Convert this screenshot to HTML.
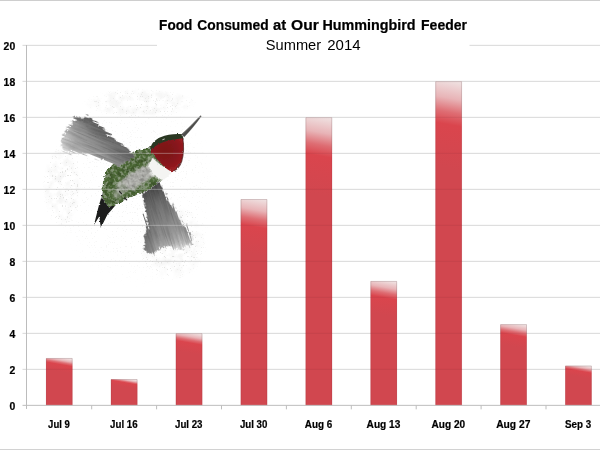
<!DOCTYPE html>
<html lang="en"><head><meta charset="utf-8"><title>Food Consumed at Our Hummingbird Feeder</title>
<style>html,body{margin:0;padding:0;background:#fff;overflow:hidden}svg{display:block}text{font-family:"Liberation Sans",sans-serif;fill:#000}.b{font-weight:bold;stroke:#000;stroke-width:0.22px;paint-order:stroke}</style></head><body>
<svg width="600" height="450" viewBox="0 0 600 450">
<defs>
<linearGradient id="g0" gradientUnits="userSpaceOnUse" x1="59.25" y1="357.19" x2="56.84" y2="370.83"><stop offset="0" stop-color="#efe0e0"/><stop offset="0.2" stop-color="#e8b4b7"/><stop offset="0.36" stop-color="#de6d73"/><stop offset="0.5" stop-color="#da454d"/><stop offset="1" stop-color="#d1474f"/></linearGradient>
<linearGradient id="g1" gradientUnits="userSpaceOnUse" x1="124.15" y1="378.25" x2="122.71" y2="386.41"><stop offset="0" stop-color="#efe0e0"/><stop offset="0.2" stop-color="#e8b4b7"/><stop offset="0.36" stop-color="#de6d73"/><stop offset="0.5" stop-color="#da454d"/><stop offset="1" stop-color="#d1474f"/></linearGradient>
<linearGradient id="g2" gradientUnits="userSpaceOnUse" x1="189.05" y1="332.35" x2="185.51" y2="352.45"><stop offset="0" stop-color="#efe0e0"/><stop offset="0.2" stop-color="#e8b4b7"/><stop offset="0.36" stop-color="#de6d73"/><stop offset="0.5" stop-color="#da454d"/><stop offset="1" stop-color="#d1474f"/></linearGradient>
<linearGradient id="g3" gradientUnits="userSpaceOnUse" x1="253.95" y1="198.25" x2="244.26" y2="253.21"><stop offset="0" stop-color="#efe0e0"/><stop offset="0.2" stop-color="#e8b4b7"/><stop offset="0.36" stop-color="#de6d73"/><stop offset="0.5" stop-color="#da454d"/><stop offset="1" stop-color="#d1474f"/></linearGradient>
<linearGradient id="g4" gradientUnits="userSpaceOnUse" x1="318.85" y1="116.35" x2="305.40" y2="192.61"><stop offset="0" stop-color="#efe0e0"/><stop offset="0.2" stop-color="#e8b4b7"/><stop offset="0.36" stop-color="#de6d73"/><stop offset="0.5" stop-color="#da454d"/><stop offset="1" stop-color="#d1474f"/></linearGradient>
<linearGradient id="g5" gradientUnits="userSpaceOnUse" x1="383.75" y1="280.15" x2="377.81" y2="313.82"><stop offset="0" stop-color="#efe0e0"/><stop offset="0.2" stop-color="#e8b4b7"/><stop offset="0.36" stop-color="#de6d73"/><stop offset="0.5" stop-color="#da454d"/><stop offset="1" stop-color="#d1474f"/></linearGradient>
<linearGradient id="g6" gradientUnits="userSpaceOnUse" x1="448.65" y1="80.35" x2="433.55" y2="165.97"><stop offset="0" stop-color="#efe0e0"/><stop offset="0.2" stop-color="#e8b4b7"/><stop offset="0.36" stop-color="#de6d73"/><stop offset="0.5" stop-color="#da454d"/><stop offset="1" stop-color="#d1474f"/></linearGradient>
<linearGradient id="g7" gradientUnits="userSpaceOnUse" x1="513.55" y1="323.35" x2="509.59" y2="345.79"><stop offset="0" stop-color="#efe0e0"/><stop offset="0.2" stop-color="#e8b4b7"/><stop offset="0.36" stop-color="#de6d73"/><stop offset="0.5" stop-color="#da454d"/><stop offset="1" stop-color="#d1474f"/></linearGradient>
<linearGradient id="g8" gradientUnits="userSpaceOnUse" x1="578.45" y1="364.75" x2="576.39" y2="376.42"><stop offset="0" stop-color="#efe0e0"/><stop offset="0.2" stop-color="#e8b4b7"/><stop offset="0.36" stop-color="#de6d73"/><stop offset="0.5" stop-color="#da454d"/><stop offset="1" stop-color="#d1474f"/></linearGradient>
</defs>
<rect width="600" height="450" fill="#fff"/>
<line x1="22.5" y1="369.35" x2="600" y2="369.35" stroke="#d8d8d8" stroke-width="1"/>
<line x1="22.5" y1="333.35" x2="600" y2="333.35" stroke="#d8d8d8" stroke-width="1"/>
<line x1="22.5" y1="297.35" x2="600" y2="297.35" stroke="#d8d8d8" stroke-width="1"/>
<line x1="22.5" y1="261.35" x2="600" y2="261.35" stroke="#d8d8d8" stroke-width="1"/>
<line x1="22.5" y1="225.35000000000002" x2="600" y2="225.35000000000002" stroke="#d8d8d8" stroke-width="1"/>
<line x1="22.5" y1="189.35000000000002" x2="600" y2="189.35000000000002" stroke="#d8d8d8" stroke-width="1"/>
<line x1="22.5" y1="153.35000000000002" x2="600" y2="153.35000000000002" stroke="#d8d8d8" stroke-width="1"/>
<line x1="22.5" y1="117.35000000000002" x2="600" y2="117.35000000000002" stroke="#d8d8d8" stroke-width="1"/>
<line x1="22.5" y1="81.35000000000002" x2="600" y2="81.35000000000002" stroke="#d8d8d8" stroke-width="1"/>
<line x1="22.5" y1="45.35000000000002" x2="600" y2="45.35000000000002" stroke="#d8d8d8" stroke-width="1"/>
<defs>
<filter id="rough" x="-10%" y="-10%" width="120%" height="120%">
<feTurbulence type="fractalNoise" baseFrequency="0.3" numOctaves="2" seed="3" result="n"/>
<feDisplacementMap in="SourceGraphic" in2="n" scale="2.6" xChannelSelector="R" yChannelSelector="G" result="d"/>
<feGaussianBlur in="d" stdDeviation="0.4"/>
</filter>
<filter id="mottle" x="-10%" y="-10%" width="120%" height="120%">
<feTurbulence type="fractalNoise" baseFrequency="0.22" numOctaves="3" seed="11" result="n"/>
<feDisplacementMap in="SourceGraphic" in2="n" scale="5" xChannelSelector="R" yChannelSelector="G" result="d"/>
<feColorMatrix in="n" type="matrix" values="0.9 0 0 0 0.42  0.9 0 0 0 0.42  0.9 0 0 0 0.42  0 0 0 0 1" result="g"/>
<feBlend in="d" in2="g" mode="multiply" result="b"/>
<feComposite in="b" in2="d" operator="in" result="c"/>
<feGaussianBlur in="c" stdDeviation="0.4"/>
</filter>
<filter id="streak" x="-15%" y="-15%" width="130%" height="130%">
<feTurbulence type="fractalNoise" baseFrequency="0.035 0.7" numOctaves="2" seed="4" result="n"/>
<feTurbulence type="fractalNoise" baseFrequency="0.4" numOctaves="2" seed="9" result="n2"/>
<feDisplacementMap in="SourceGraphic" in2="n" scale="9" xChannelSelector="G" yChannelSelector="A" result="d0"/>
<feDisplacementMap in="d0" in2="n2" scale="2.5" xChannelSelector="R" yChannelSelector="G" result="d"/>
<feColorMatrix in="n" type="matrix" values="0.9 0 0 0 0.5  0.9 0 0 0 0.5  0.9 0 0 0 0.5  0 0 0 0 1" result="g"/>
<feBlend in="d" in2="g" mode="multiply" result="b"/>
<feComposite in="b" in2="d" operator="in" result="c"/>
<feGaussianBlur in="c" stdDeviation="0.35"/>
</filter>
<filter id="flecks" x="-5%" y="-5%" width="110%" height="110%">
<feTurbulence type="fractalNoise" baseFrequency="0.28" numOctaves="2" seed="21" result="n"/>
<feColorMatrix in="n" type="matrix" values="0 0 0 0 0.62  0 0 0 0 0.63  0 0 0 0 0.6  5 0 0 0 -2.35" result="s"/>
<feComposite in="s" in2="SourceGraphic" operator="in" result="c"/>
<feGaussianBlur in="c" stdDeviation="0.5"/>
</filter>
<filter id="haze" x="0" y="0" width="100%" height="100%">
<feTurbulence type="fractalNoise" baseFrequency="0.12" numOctaves="3" seed="2" result="n"/>
<feColorMatrix in="n" type="matrix" values="0 0 0 0 0.35  0 0 0 0 0.35  0 0 0 0 0.33  3.2 0 0 0 -1.25" result="s"/>
<feComposite in="s" in2="SourceGraphic" operator="in"/>
</filter>
<filter id="speck" x="0" y="0" width="100%" height="100%">
<feTurbulence type="fractalNoise" baseFrequency="0.8" numOctaves="2" seed="5" result="n"/>
<feColorMatrix in="n" type="matrix" values="0 0 0 0 0.5  0 0 0 0 0.5  0 0 0 0 0.48  -10 -10 0 0 7.6" result="s"/>
<feComposite in="s" in2="SourceGraphic" operator="in"/>
</filter>
<radialGradient id="halo" cx="0.5" cy="0.5" r="0.5"><stop offset="0" stop-color="#000" stop-opacity="0.8"/><stop offset="0.75" stop-color="#000" stop-opacity="0.6"/><stop offset="1" stop-color="#000" stop-opacity="0"/></radialGradient>
<linearGradient id="wingL" gradientUnits="userSpaceOnUse" x1="128" y1="156" x2="64" y2="136"><stop offset="0" stop-color="#6c6c6c"/><stop offset="0.4" stop-color="#868686"/><stop offset="0.8" stop-color="#a4a4a4"/><stop offset="1" stop-color="#cdcdcd"/></linearGradient>
<linearGradient id="wingLs" gradientUnits="userSpaceOnUse" x1="103" y1="128" x2="90" y2="158"><stop offset="0" stop-color="#333" stop-opacity="0.55"/><stop offset="0.4" stop-color="#555" stop-opacity="0.12"/><stop offset="1" stop-color="#fff" stop-opacity="0.3"/></linearGradient>
<linearGradient id="wingR" gradientUnits="userSpaceOnUse" x1="153" y1="186" x2="171" y2="250"><stop offset="0" stop-color="#4a4a4a"/><stop offset="0.3" stop-color="#6e6e6e"/><stop offset="0.75" stop-color="#929292"/><stop offset="0.93" stop-color="#b2b2b2"/><stop offset="1" stop-color="#d8d8d8"/></linearGradient>
<linearGradient id="wingRs" gradientUnits="userSpaceOnUse" x1="145" y1="222" x2="190" y2="212"><stop offset="0" stop-color="#333" stop-opacity="0.35"/><stop offset="0.3" stop-color="#777" stop-opacity="0"/><stop offset="0.7" stop-color="#fff" stop-opacity="0.1"/><stop offset="1" stop-color="#444" stop-opacity="0.3"/></linearGradient>
<radialGradient id="gorget" gradientUnits="userSpaceOnUse" cx="165" cy="151" r="20"><stop offset="0" stop-color="#7a1216"/><stop offset="0.6" stop-color="#85171b"/><stop offset="0.9" stop-color="#93191e"/><stop offset="1" stop-color="#9c2126"/></radialGradient>
</defs>
<g id="bird">
<!-- faint speckle halo -->
<g filter="url(#haze)" opacity="0.13">
<ellipse cx="62" cy="186" rx="19" ry="40" fill="url(#halo)"/>
<ellipse cx="172" cy="242" rx="34" ry="38" fill="url(#halo)"/>
<ellipse cx="140" cy="103" rx="56" ry="14" fill="url(#halo)"/>
</g>
<g filter="url(#speck)" opacity="0.5">
<ellipse cx="135" cy="190" rx="84" ry="98" fill="url(#halo)" opacity="0.4"/>
<ellipse cx="62" cy="186" rx="20" ry="42" fill="url(#halo)"/>
<ellipse cx="172" cy="242" rx="36" ry="40" fill="url(#halo)"/>
<ellipse cx="140" cy="103" rx="58" ry="15" fill="url(#halo)" opacity="0.8"/>
</g>
<!-- near wing (lower-right) -->
<g transform="rotate(72 165 215)"><g filter="url(#streak)">
<g transform="rotate(-72 165 215)">
<path d="M156.7 181 L166.800 196.2 L176.500 212 L185 225.4 L190.500 236.7 L192.500 243.500 L186.500 246.500 L178 251 L169 246 L161 248 L152 254 L143.800 250 L146.500 225.6 L144.8 207.8 L142 195 L147 185 Z" fill="url(#wingR)"/>
<path d="M156.7 181 L166.800 196.2 L176.500 212 L185 225.4 L190.500 236.7 L192.500 243.500 L186.500 246.500 L178 251 L169 246 L161 248 L152 254 L143.800 250 L146.500 225.6 L144.8 207.8 L142 195 L147 185 Z" fill="url(#wingRs)"/>
</g></g></g>
<!-- tail -->
<g filter="url(#rough)">
<path d="M104 189 L99 205 L94 224.8 L99.3 216.5 L100.8 227.8 L107.5 214.5 L117.5 203 L113 192 Z" fill="#1b1d1a"/>
</g>
<!-- body -->
<clipPath id="bodyclip"><path d="M151 146.5 C143 148.5 133 151 124 156 C115 161 107.500 167.500 104 176.500 C101.500 184 101.500 194 104 201.500 C106 206.500 110 208 115 205.500 C121 202 126 199.5 131 197.5 C138 195 146 191.5 152 187.5 C158 183.500 163 179 167 174 C170 170.5 172 167.500 172 164.500 L160 150 Z"/></clipPath>
<filter id="soft" x="-20%" y="-20%" width="140%" height="140%"><feGaussianBlur stdDeviation="1.6"/></filter>
<g filter="url(#mottle)">
<g clip-path="url(#bodyclip)">
<path d="M151 146.5 C143 148.5 133 151 124 156 C115 161 107.500 167.500 104 176.500 C101.500 184 101.500 194 104 201.500 C106 206.500 110 208 115 205.500 C121 202 126 199.5 131 197.5 C138 195 146 191.5 152 187.5 C158 183.500 163 179 167 174 C170 170.5 172 167.500 172 164.500 L160 150 Z" fill="#4b6835"/>
<g filter="url(#soft)">
<ellipse cx="137" cy="178.500" rx="25" ry="7.800" transform="rotate(-31 137 178.500)" fill="#b0b0ac"/>
<ellipse cx="120" cy="191" rx="9" ry="5" transform="rotate(-50 120 191)" fill="#8f9a84" opacity="0.8"/>
<path d="M152 157 C156 163 162 167.500 171.500 170.500 C172 174 168 178.500 162.500 180.500 C155 179 149 171 147.500 163.500 Z" fill="#f6f6f4"/>
</g>
<path d="M153 158 C157 163 163 167 170.500 170 C171 173 168 176.500 163 178.500 C157 177 152 171 150 165 Z" fill="#f2f2f0"/>
</g>
</g>
<g filter="url(#flecks)" opacity="0.42"><path d="M151 146.5 C143 148.5 133 151 124 156 C115 161 107.500 167.500 104 176.500 C101.500 184 101.500 194 104 201.500 C106 206.500 110 208 115 205.500 C121 202 126 199.5 131 197.5 C138 195 146 191.5 152 187.5 C158 183.500 163 179 167 174 C170 170.5 172 167.500 172 164.500 L160 150 Z" fill="#000"/></g>
<g filter="url(#rough)"><path d="M152.500 158 C156.500 163 162.500 167 170.800 170 C171.300 173.500 168 177.500 163 179.500 C156.500 178 151 172 149 165.500 Z" fill="#f4f4f2"/></g>
<!-- far wing (upper-left) -->
<g transform="rotate(22 100 140)"><g filter="url(#streak)">
<g transform="rotate(-22 100 140)">
<path d="M75.6 115.8 L88 116.8 L99 125.5 L112 136.5 L126 148 L134.500 155 L127 161.500 L118.500 167.200 L110 163 L103 159.5 L85.6 154 L62.8 152.6 L60.5 146 L62 140 L65.2 131.5 L70.6 125.5 Z" fill="url(#wingL)"/>
<path d="M75.6 115.8 L88 116.8 L99 125.5 L112 136.5 L126 148 L134.500 155 L127 161.500 L118.500 167.200 L110 163 L103 159.5 L85.6 154 L62.8 152.6 L60.5 146 L62 140 L65.2 131.5 L70.6 125.5 Z" fill="url(#wingLs)"/>
</g></g></g>
<!-- head -->
<g filter="url(#rough)">
<path d="M150.300 149 C151 143.500 155.500 139.300 160.500 137.300 C167 134.600 175 133.600 182.300 134.300 L183.600 139.500 C176 140 168 141.500 161 144.500 C157 146.500 154 149 152.500 152.500 Z" fill="#2b3724"/>
<path d="M151 150.600 C153 147.200 157.300 144.200 163 142.200 C169 140.200 176 139 182.800 138.300 C184 145.500 183.800 153.500 181.800 161 C180.200 166 177.200 169.500 173.500 171.100 C169.700 172 166.200 168.500 162.500 165 C158.400 161 154.400 156.700 151 150.600 Z" fill="url(#gorget)"/>
<path d="M182.800 138.300 C184 145.500 183.800 153.500 181.800 161 C180.200 166 177.200 169.500 173.500 171.100" fill="none" stroke="#3c0d10" stroke-width="1.100" opacity="0.65"/>
</g>
<path d="M162.800 139.600 l1.500 -0.500" stroke="#d8d8d0" stroke-width="0.9" stroke-linecap="round"/>
<!-- beak -->
<path d="M181.600 134.300 C188 128.500 195 121.500 200.700 115.600 L201.300 116.300 C196.500 123 190.500 130.500 184.200 137 Z" fill="#4d4d4b" stroke="#4d4d4b" stroke-width="0.25" stroke-linejoin="round"/>
<path d="M183 133.800 C189 128 195 122 200.400 116.300" fill="none" stroke="#8a8a88" stroke-width="0.5" opacity="0.7"/>
<!-- feet -->
<path d="M119.500 191.500 l2 2.200 M124.500 198 l2.200 1.800" stroke="#2a2a28" stroke-width="1.200" stroke-linecap="round" fill="none"/>
</g>

<line x1="58" y1="225.35000000000002" x2="204" y2="225.35000000000002" stroke="#dcdcdc" stroke-opacity="0.4" stroke-width="1"/>
<line x1="58" y1="189.35000000000002" x2="204" y2="189.35000000000002" stroke="#dcdcdc" stroke-opacity="0.4" stroke-width="1"/>
<line x1="58" y1="153.35000000000002" x2="204" y2="153.35000000000002" stroke="#dcdcdc" stroke-opacity="0.4" stroke-width="1"/>
<line x1="58" y1="117.35000000000002" x2="204" y2="117.35000000000002" stroke="#dcdcdc" stroke-opacity="0.4" stroke-width="1"/>
<rect x="157" y="8" width="312.5" height="50" fill="#fff"/>
<rect x="46.05" y="358.19" width="26.4" height="47.16" fill="url(#g0)"/>
<path d="M46.30 405.35V364.38M72.20 405.35V364.38" fill="none" stroke="#8e2f38" stroke-opacity="0.3" stroke-width="0.6"/>
<path d="M46.30 364.38V358.44H72.20V364.38" fill="none" stroke="#7a5a5c" stroke-opacity="0.45" stroke-width="0.6"/>
<rect x="110.95" y="379.25" width="26.4" height="26.10" fill="url(#g1)"/>
<path d="M111.20 405.35V383.12M137.10 405.35V383.12" fill="none" stroke="#8e2f38" stroke-opacity="0.3" stroke-width="0.6"/>
<path d="M111.20 383.12V379.50H137.10V383.12" fill="none" stroke="#7a5a5c" stroke-opacity="0.45" stroke-width="0.6"/>
<rect x="175.85" y="333.35" width="26.4" height="72.00" fill="url(#g2)"/>
<path d="M176.10 405.35V342.27M202.00 405.35V342.27" fill="none" stroke="#8e2f38" stroke-opacity="0.3" stroke-width="0.6"/>
<path d="M176.10 342.27V333.60H202.00V342.27" fill="none" stroke="#7a5a5c" stroke-opacity="0.45" stroke-width="0.6"/>
<rect x="240.75" y="199.25" width="26.4" height="206.10" fill="url(#g3)"/>
<path d="M241.00 405.35V222.92M266.90 405.35V222.92" fill="none" stroke="#8e2f38" stroke-opacity="0.3" stroke-width="0.6"/>
<path d="M241.00 222.92V199.50H266.90V222.92" fill="none" stroke="#7a5a5c" stroke-opacity="0.45" stroke-width="0.6"/>
<rect x="305.65" y="117.35" width="26.4" height="288.00" fill="url(#g4)"/>
<path d="M305.90 405.35V150.03M331.80 405.35V150.03" fill="none" stroke="#8e2f38" stroke-opacity="0.3" stroke-width="0.6"/>
<path d="M305.90 150.03V117.60H331.80V150.03" fill="none" stroke="#7a5a5c" stroke-opacity="0.45" stroke-width="0.6"/>
<rect x="370.55" y="281.15" width="26.4" height="124.20" fill="url(#g5)"/>
<path d="M370.80 405.35V295.81M396.70 405.35V295.81" fill="none" stroke="#8e2f38" stroke-opacity="0.3" stroke-width="0.6"/>
<path d="M370.80 295.81V281.40H396.70V295.81" fill="none" stroke="#7a5a5c" stroke-opacity="0.45" stroke-width="0.6"/>
<rect x="435.45" y="81.35" width="26.4" height="324.00" fill="url(#g6)"/>
<path d="M435.70 405.35V117.99M461.60 405.35V117.99" fill="none" stroke="#8e2f38" stroke-opacity="0.3" stroke-width="0.6"/>
<path d="M435.70 117.99V81.60H461.60V117.99" fill="none" stroke="#7a5a5c" stroke-opacity="0.45" stroke-width="0.6"/>
<rect x="500.35" y="324.35" width="26.4" height="81.00" fill="url(#g7)"/>
<path d="M500.60 405.35V334.26M526.50 405.35V334.26" fill="none" stroke="#8e2f38" stroke-opacity="0.3" stroke-width="0.6"/>
<path d="M500.60 334.26V324.60H526.50V334.26" fill="none" stroke="#7a5a5c" stroke-opacity="0.45" stroke-width="0.6"/>
<rect x="565.25" y="365.75" width="26.4" height="39.60" fill="url(#g8)"/>
<path d="M565.50 405.35V371.11M591.40 405.35V371.11" fill="none" stroke="#8e2f38" stroke-opacity="0.3" stroke-width="0.6"/>
<path d="M565.50 371.11V366.00H591.40V371.11" fill="none" stroke="#7a5a5c" stroke-opacity="0.45" stroke-width="0.6"/>
<line x1="46.05" y1="369.35" x2="72.45" y2="369.35" stroke="#7a2a30" stroke-opacity="0.12" stroke-width="1"/>
<line x1="175.85" y1="369.35" x2="202.25" y2="369.35" stroke="#7a2a30" stroke-opacity="0.12" stroke-width="1"/>
<line x1="240.75" y1="369.35" x2="267.15" y2="369.35" stroke="#7a2a30" stroke-opacity="0.12" stroke-width="1"/>
<line x1="305.65" y1="369.35" x2="332.05" y2="369.35" stroke="#7a2a30" stroke-opacity="0.12" stroke-width="1"/>
<line x1="370.55" y1="369.35" x2="396.95" y2="369.35" stroke="#7a2a30" stroke-opacity="0.12" stroke-width="1"/>
<line x1="435.45" y1="369.35" x2="461.85" y2="369.35" stroke="#7a2a30" stroke-opacity="0.12" stroke-width="1"/>
<line x1="500.35" y1="369.35" x2="526.75" y2="369.35" stroke="#7a2a30" stroke-opacity="0.12" stroke-width="1"/>
<line x1="565.25" y1="369.35" x2="591.65" y2="369.35" stroke="#7a2a30" stroke-opacity="0.12" stroke-width="1"/>
<line x1="240.75" y1="333.35" x2="267.15" y2="333.35" stroke="#7a2a30" stroke-opacity="0.12" stroke-width="1"/>
<line x1="305.65" y1="333.35" x2="332.05" y2="333.35" stroke="#7a2a30" stroke-opacity="0.12" stroke-width="1"/>
<line x1="370.55" y1="333.35" x2="396.95" y2="333.35" stroke="#7a2a30" stroke-opacity="0.12" stroke-width="1"/>
<line x1="435.45" y1="333.35" x2="461.85" y2="333.35" stroke="#7a2a30" stroke-opacity="0.12" stroke-width="1"/>
<line x1="500.35" y1="333.35" x2="526.75" y2="333.35" stroke="#7a2a30" stroke-opacity="0.12" stroke-width="1"/>
<line x1="240.75" y1="297.35" x2="267.15" y2="297.35" stroke="#7a2a30" stroke-opacity="0.12" stroke-width="1"/>
<line x1="305.65" y1="297.35" x2="332.05" y2="297.35" stroke="#7a2a30" stroke-opacity="0.12" stroke-width="1"/>
<line x1="370.55" y1="297.35" x2="396.95" y2="297.35" stroke="#7a2a30" stroke-opacity="0.12" stroke-width="1"/>
<line x1="435.45" y1="297.35" x2="461.85" y2="297.35" stroke="#7a2a30" stroke-opacity="0.12" stroke-width="1"/>
<line x1="240.75" y1="261.35" x2="267.15" y2="261.35" stroke="#7a2a30" stroke-opacity="0.12" stroke-width="1"/>
<line x1="305.65" y1="261.35" x2="332.05" y2="261.35" stroke="#7a2a30" stroke-opacity="0.12" stroke-width="1"/>
<line x1="435.45" y1="261.35" x2="461.85" y2="261.35" stroke="#7a2a30" stroke-opacity="0.12" stroke-width="1"/>
<line x1="240.75" y1="225.35000000000002" x2="267.15" y2="225.35000000000002" stroke="#7a2a30" stroke-opacity="0.12" stroke-width="1"/>
<line x1="305.65" y1="225.35000000000002" x2="332.05" y2="225.35000000000002" stroke="#7a2a30" stroke-opacity="0.12" stroke-width="1"/>
<line x1="435.45" y1="225.35000000000002" x2="461.85" y2="225.35000000000002" stroke="#7a2a30" stroke-opacity="0.12" stroke-width="1"/>
<line x1="305.65" y1="189.35000000000002" x2="332.05" y2="189.35000000000002" stroke="#7a2a30" stroke-opacity="0.12" stroke-width="1"/>
<line x1="435.45" y1="189.35000000000002" x2="461.85" y2="189.35000000000002" stroke="#7a2a30" stroke-opacity="0.12" stroke-width="1"/>
<line x1="305.65" y1="153.35000000000002" x2="332.05" y2="153.35000000000002" stroke="#7a2a30" stroke-opacity="0.12" stroke-width="1"/>
<line x1="435.45" y1="153.35000000000002" x2="461.85" y2="153.35000000000002" stroke="#7a2a30" stroke-opacity="0.12" stroke-width="1"/>
<line x1="435.45" y1="117.35000000000002" x2="461.85" y2="117.35000000000002" stroke="#7a2a30" stroke-opacity="0.12" stroke-width="1"/>
<line x1="22.5" y1="405.35" x2="600" y2="405.35" stroke="#bdbdbd" stroke-width="1"/>
<line x1="26.5" y1="45" x2="26.5" y2="408.95000000000005" stroke="#bcbcbc" stroke-width="1"/>
<line x1="91.70" y1="405.35" x2="91.70" y2="409.35" stroke="#bdbdbd" stroke-width="1"/>
<line x1="156.60" y1="405.35" x2="156.60" y2="409.35" stroke="#bdbdbd" stroke-width="1"/>
<line x1="221.50" y1="405.35" x2="221.50" y2="409.35" stroke="#bdbdbd" stroke-width="1"/>
<line x1="286.40" y1="405.35" x2="286.40" y2="409.35" stroke="#bdbdbd" stroke-width="1"/>
<line x1="351.30" y1="405.35" x2="351.30" y2="409.35" stroke="#bdbdbd" stroke-width="1"/>
<line x1="416.20" y1="405.35" x2="416.20" y2="409.35" stroke="#bdbdbd" stroke-width="1"/>
<line x1="481.10" y1="405.35" x2="481.10" y2="409.35" stroke="#bdbdbd" stroke-width="1"/>
<line x1="546.00" y1="405.35" x2="546.00" y2="409.35" stroke="#bdbdbd" stroke-width="1"/>
<text x="9.40" y="410.10" font-size="10.8" class="b" textLength="5.80" lengthAdjust="spacingAndGlyphs">0</text>
<text x="9.40" y="374.10" font-size="10.8" class="b" textLength="5.80" lengthAdjust="spacingAndGlyphs">2</text>
<text x="9.40" y="338.10" font-size="10.8" class="b" textLength="5.80" lengthAdjust="spacingAndGlyphs">4</text>
<text x="9.40" y="302.10" font-size="10.8" class="b" textLength="5.80" lengthAdjust="spacingAndGlyphs">6</text>
<text x="9.40" y="266.10" font-size="10.8" class="b" textLength="5.80" lengthAdjust="spacingAndGlyphs">8</text>
<text x="3.60" y="230.10" font-size="10.8" class="b" textLength="11.60" lengthAdjust="spacingAndGlyphs">10</text>
<text x="3.60" y="194.10" font-size="10.8" class="b" textLength="11.60" lengthAdjust="spacingAndGlyphs">12</text>
<text x="3.60" y="158.10" font-size="10.8" class="b" textLength="11.60" lengthAdjust="spacingAndGlyphs">14</text>
<text x="3.60" y="122.10" font-size="10.8" class="b" textLength="11.60" lengthAdjust="spacingAndGlyphs">16</text>
<text x="3.60" y="86.10" font-size="10.8" class="b" textLength="11.60" lengthAdjust="spacingAndGlyphs">18</text>
<text x="3.60" y="50.10" font-size="10.8" class="b" textLength="11.60" lengthAdjust="spacingAndGlyphs">20</text>
<text x="48.08" y="427.6" font-size="10.8" class="b" textLength="21.75" lengthAdjust="spacingAndGlyphs">Jul 9</text>
<text x="110.10" y="427.6" font-size="10.8" class="b" textLength="27.50" lengthAdjust="spacingAndGlyphs">Jul 16</text>
<text x="175.00" y="427.6" font-size="10.8" class="b" textLength="27.50" lengthAdjust="spacingAndGlyphs">Jul 23</text>
<text x="239.90" y="427.6" font-size="10.8" class="b" textLength="27.50" lengthAdjust="spacingAndGlyphs">Jul 30</text>
<text x="304.80" y="427.6" font-size="10.8" class="b" textLength="27.50" lengthAdjust="spacingAndGlyphs">Aug 6</text>
<text x="366.58" y="427.6" font-size="10.8" class="b" textLength="33.75" lengthAdjust="spacingAndGlyphs">Aug 13</text>
<text x="431.55" y="427.6" font-size="10.8" class="b" textLength="33.60" lengthAdjust="spacingAndGlyphs">Aug 20</text>
<text x="496.15" y="427.6" font-size="10.8" class="b" textLength="34.20" lengthAdjust="spacingAndGlyphs">Aug 27</text>
<text x="565.10" y="427.6" font-size="10.8" class="b" textLength="26.10" lengthAdjust="spacingAndGlyphs">Sep 3</text>
<text y="29.7" font-size="14.2" class="b"><tspan x="159.10" textLength="33.20" lengthAdjust="spacingAndGlyphs">Food</tspan> <tspan x="197.30" textLength="71.40" lengthAdjust="spacingAndGlyphs">Consumed</tspan> <tspan x="273.10" textLength="13.20" lengthAdjust="spacingAndGlyphs">at</tspan> <tspan x="291.10" textLength="27.80" lengthAdjust="spacingAndGlyphs">Our</tspan> <tspan x="322.40" textLength="93.20" lengthAdjust="spacingAndGlyphs">Hummingbird</tspan> <tspan x="421.10" textLength="45.80" lengthAdjust="spacingAndGlyphs">Feeder</tspan></text>
<text y="49.7" font-size="14.6"><tspan x="265.80" textLength="55.30" lengthAdjust="spacingAndGlyphs">Summer</tspan> <tspan x="327.20" textLength="33.40" lengthAdjust="spacingAndGlyphs">2014</tspan></text>
<line x1="0" y1="0.5" x2="600" y2="0.5" stroke="#cecece" stroke-width="1"/>
<line x1="0" y1="449.5" x2="600" y2="449.5" stroke="#d2d2d2" stroke-width="1"/>
</svg></body></html>
